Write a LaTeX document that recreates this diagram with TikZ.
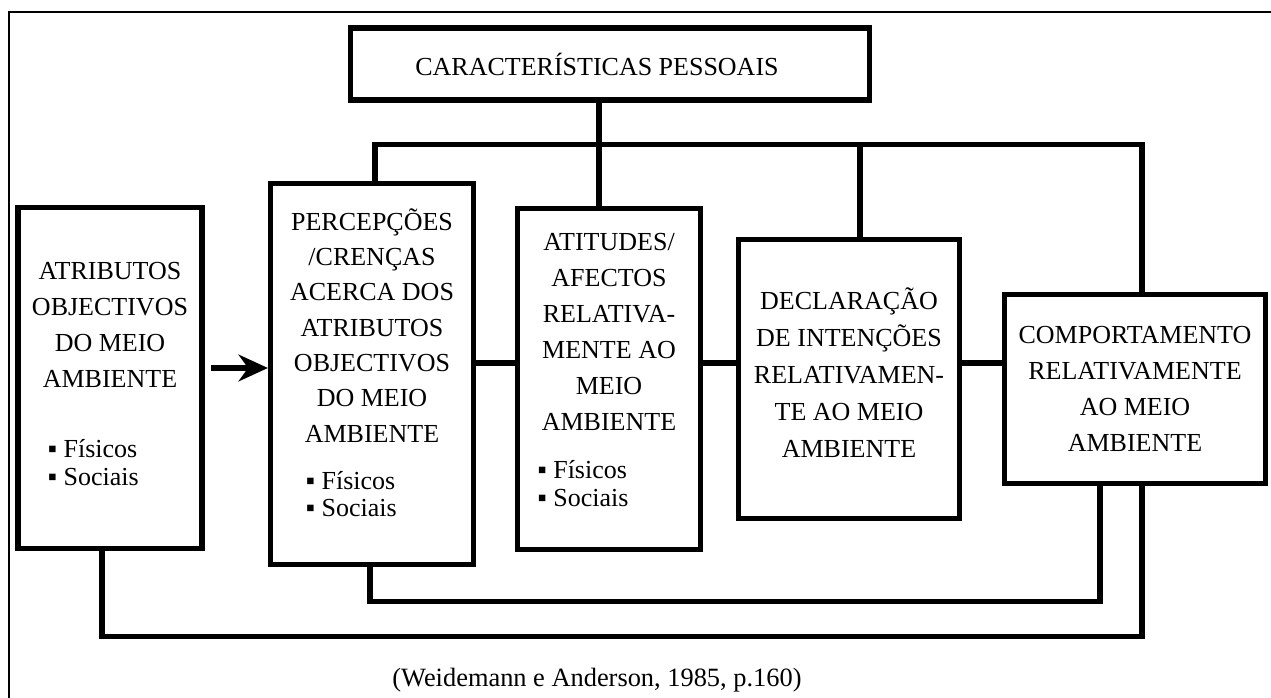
\documentclass[tikz,border=0pt]{standalone}
\usepackage{fontspec}
\setmainfont{Liberation Serif}
\usetikzlibrary{arrows.meta,calc}
\newcommand{\itens}[2]{\hspace*{#1}{\def\arraystretch{0.78}\begin{tabular}[t]{@{}l@{}}▪ Físicos\\▪ Sociais\rule[-#2]{0pt}{0pt}\end{tabular}}}

\begin{document}
\begin{tikzpicture}[>={Stealth[length=22pt,width=20pt]},x=0.75pt,y=-0.75pt,
	caixa/.style={draw,line width=4.1pt,align=center,inner sep=0pt,font=\fontsize{19.5}{27}\selectfont},
	liga/.style={line width=4.1pt}]
	\useasboundingbox (0,0) rectangle (1271,698);
	\draw[line width=1.5pt] (9,698) |- (1271,12);
	% caixas
	\node[caixa,minimum width=389pt,minimum height=54pt] (carac) at (610,64) {\hspace*{-19.5pt}CARACTERÍSTICAS PESSOAIS};
	\node[caixa,minimum width=138pt,minimum height=256pt] (atrib) at (110,378) {ATRIBUTOS\\OBJECTIVOS\\DO MEIO\\AMBIENTE\\[25pt]\itens{-25pt}{6pt}};
	\node[caixa,minimum width=152pt,minimum height=286pt,font=\fontsize{19.5}{26.5}\selectfont] (perc) at (372,374) {PERCEPÇÕES\\/CRENÇAS\\ACERCA DOS\\ATRIBUTOS\\OBJECTIVOS\\DO MEIO\\AMBIENTE\\[9pt]\itens{-31pt}{17pt}};
	\node[caixa,minimum width=137pt,minimum height=256pt] (att) at (609,379) {ATITUDES/\\AFECTOS\\RELATIVA-\\MENTE AO\\MEIO\\AMBIENTE\\[9pt]\itens{-39pt}{14pt}};
	\node[caixa,minimum width=166pt,minimum height=209pt,font=\fontsize{19.5}{27.75}\selectfont] (decl) at (849,379) {DECLARAÇÃO\\DE INTENÇÕES\\RELATIVAMEN-\\TE AO MEIO\\AMBIENTE\rule[-10pt]{0pt}{0pt}};
	\node[caixa,minimum width=196pt,minimum height=142pt] (comp) at (1135,389) {COMPORTAMENTO\\RELATIVAMENTE\\AO MEIO\\AMBIENTE};
	\node[font=\fontsize{19.8}{24}\selectfont] (fonte) at (597,680) {(Weidemann e Anderson, 1985, p.160)};
	% ligacoes
	\coordinate (topo) at (599,144);
	\coordinate (meio) at (0,363);
	\coordinate (seta) at (0,368);
	\draw[liga] (carac.south -| topo) -- (att.north -| topo);
	\draw[liga] ($(perc.north)+(3,0)$) -- ++(0,-36) -| ($(comp.north)+(7,0)$);
	\draw[liga] ($(decl.north)+(11,0)$) -- ++(0,-93);
	\draw[liga] (perc.east |- meio) -- (att.west |- meio);
	\draw[liga] (att.east |- meio) -- (decl.west |- meio);
	\draw[liga] (decl.east |- meio) -- (comp.west |- meio);
	\draw[liga,->,shorten <=5pt] (atrib.east |- seta) -- (perc.west |- seta);
	\draw[liga] ($(perc.south)+(-2,0)$) -- ++(0,34) -| ($(comp.south)+(-35,0)$);
	\draw[liga] ($(atrib.south)+(-8,0)$) -- ++(0,85) -| ($(comp.south)+(7,0)$);
\end{tikzpicture}
\end{document}
